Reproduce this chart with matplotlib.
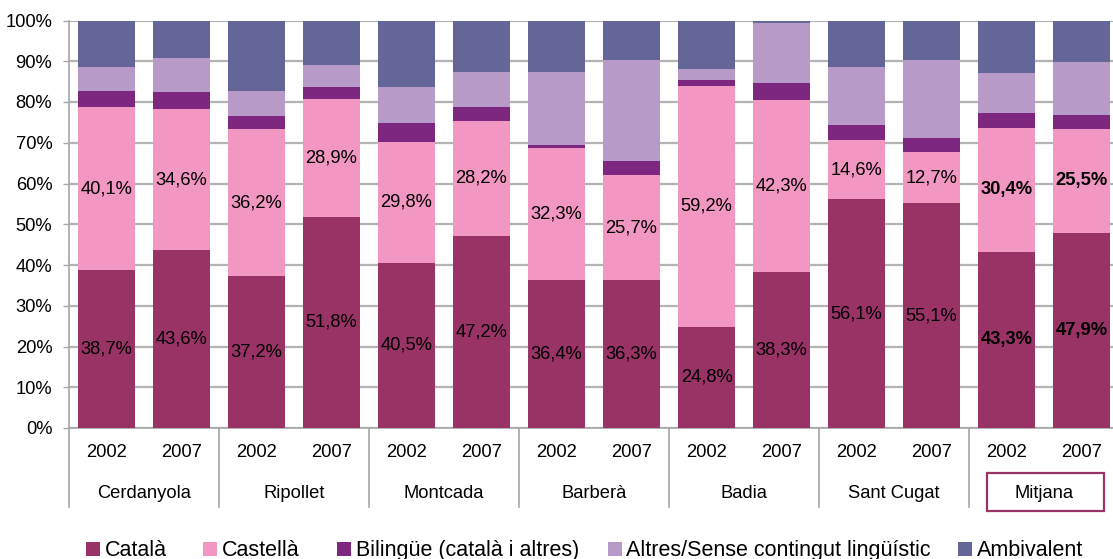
import matplotlib
matplotlib.use("Agg")
import matplotlib.pyplot as plt
from matplotlib.patches import Rectangle

plt.rcParams['font.family'] = ['Liberation Sans', 'DejaVu Sans']

municipis = ["Cerdanyola", "Ripollet", "Montcada", "Barberà", "Badia", "Sant Cugat", "Mitjana"]
anys = ["2002", "2007"]

catala = [38.7, 43.6, 37.2, 51.8, 40.5, 47.2, 36.4, 36.3, 24.8, 38.3, 56.1, 55.1, 43.3, 47.9]
castella = [40.1, 34.6, 36.2, 28.9, 29.8, 28.2, 32.3, 25.7, 59.2, 42.3, 14.6, 12.7, 30.4, 25.5]
bilingue = [4.0, 4.2, 3.1, 3.1, 4.5, 3.3, 0.7, 3.4, 1.3, 4.0, 3.6, 3.3, 3.5, 3.3]
altres = [5.7, 8.3, 6.3, 5.2, 8.8, 8.6, 17.9, 24.8, 2.9, 14.7, 14.2, 19.1, 9.8, 13.0]
ambivalent = [11.5, 9.3, 17.2, 11.0, 16.4, 12.7, 12.7, 9.8, 11.8, 0.7, 11.5, 9.8, 13.0, 10.3]

series = [
    ("Català", catala, "#993366"),
    ("Castellà", castella, "#F297C1"),
    ("Bilingüe (català i altres)", bilingue, "#7E2780"),
    ("Altres/Sense contingut lingüístic", altres, "#B79AC7"),
    ("Ambivalent", ambivalent, "#656698"),
]

W, H = 1113, 559
FS = 13.2
fig = plt.figure(figsize=(W / 100, H / 100), dpi=100)
ax = fig.add_axes([69 / W, (H - 428) / H, 1050 / W, 407.5 / H])

n = len(catala)
x = list(range(n))
bottom = [0.0] * n
for name, vals, col in series:
    ax.bar(x, vals, 0.76, bottom=bottom, color=col, label=name, zorder=3)
    bottom = [b + v for b, v in zip(bottom, vals)]

# value labels for Català and Castellà
for i in range(n):
    weight = "bold" if i >= 12 else "normal"
    ax.text(i, catala[i] / 2, f"{catala[i]:.1f}%".replace(".", ","),
            ha="center", va="center", fontsize=FS, fontweight=weight, zorder=4)
    ax.text(i, catala[i] + castella[i] / 2, f"{castella[i]:.1f}%".replace(".", ","),
            ha="center", va="center", fontsize=FS, fontweight=weight, zorder=4)

ax.set_xlim(-0.5, n - 0.5)
ax.set_ylim(0, 100)
ax.set_yticks(range(0, 101, 10))
ax.set_yticklabels([f"{v}%" for v in range(0, 101, 10)], fontsize=FS)
ax.yaxis.grid(True, color="#b3b3b3", linewidth=1.6, zorder=0)
ax.set_axisbelow(True)
ax.tick_params(axis="y", length=4, width=1, color="#a6a6a6", pad=8)
ax.tick_params(axis="x", length=0, labelbottom=False)
for s in ("top", "right"):
    ax.spines[s].set_visible(False)
for s in ("left", "bottom"):
    ax.spines[s].set_color("#a6a6a6")
    ax.spines[s].set_linewidth(1.2)

# two-level category axis
tr = ax.get_xaxis_transform()
for i in range(n):
    ax.text(i, -0.0606, anys[i % 2], transform=tr, ha="center", va="center",
            fontsize=FS, clip_on=False)
for g, nom in enumerate(municipis):
    ax.text(2 * g + 0.5, -0.16, nom, transform=tr, ha="center", va="center",
            fontsize=FS, clip_on=False)
for g in range(len(municipis) + 1):
    ax.plot([2 * g - 0.5, 2 * g - 0.5], [0, -0.193], transform=tr, color="#a6a6a6",
            linewidth=1.2, clip_on=False)
ax.add_patch(Rectangle((11.736, -0.2037), 13.3 - 11.736, 0.094, transform=tr,
                       fill=False, edgecolor="#993366", linewidth=1.6, clip_on=False))

# legend row along the bottom
swatch_x = [86, 203, 337, 608, 958]
for (name, _, col), sx in zip(series, swatch_x):
    fig.add_artist(Rectangle((sx / W, (H - 556) / H), 14 / W, 14 / H,
                             transform=fig.transFigure, facecolor=col, edgecolor="none"))
    fig.text((sx + 18.5) / W, (H - 556) / H, name, fontsize=15.5, ha="left", va="baseline")

fig.savefig("out.png", dpi=100)
